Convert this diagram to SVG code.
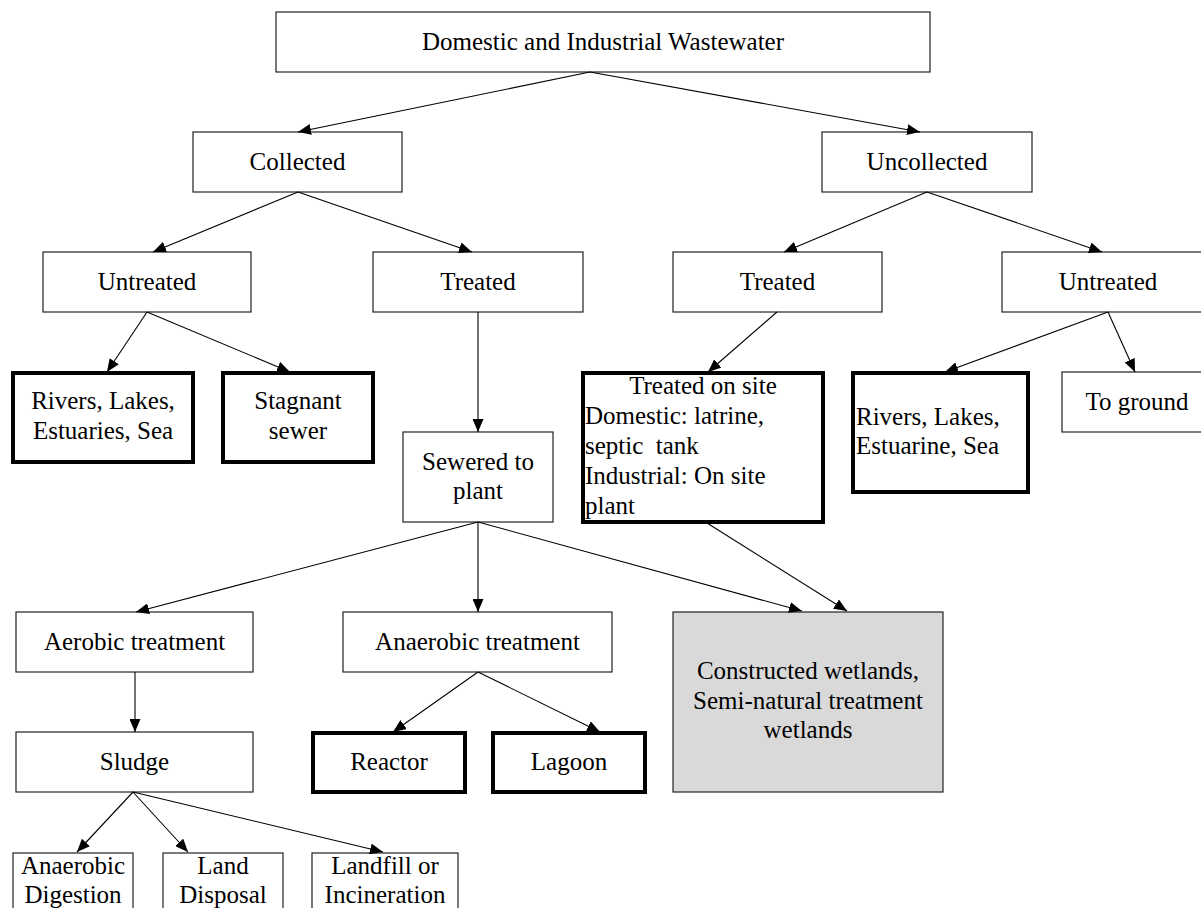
<svg xmlns="http://www.w3.org/2000/svg" width="1201" height="908" viewBox="0 0 1201 908">
<defs>
<style>
.b{fill:#fff;stroke:#222;stroke-width:1.2}
.k{fill:#fff;stroke:#000;stroke-width:4}
.g{fill:#d9d9d9;stroke:#222;stroke-width:1.2}
text{font-family:"Liberation Serif","Times New Roman",serif;font-size:25px;fill:#000}
.c{text-anchor:middle}
.e{stroke:#000;stroke-width:1.1;fill:none;marker-end:url(#ah)}
</style>
<marker id="ah" markerUnits="userSpaceOnUse" markerWidth="13" markerHeight="11" refX="13" refY="5.5" orient="auto">
<path d="M0,0 L13,5.5 L0,11 z" fill="#000"/>
</marker>
</defs>
<rect width="1201" height="908" fill="#fff"/>
<g id="n-top"><rect class="b" x="276" y="12" width="654" height="60"/><text class="c" x="603" y="50">Domestic and Industrial Wastewater</text></g>
<g id="n-collected"><rect class="b" x="193" y="132" width="209" height="60"/><text class="c" x="297.5" y="170">Collected</text></g>
<g id="n-uncollected"><rect class="b" x="822" y="132" width="210" height="60"/><text class="c" x="927" y="170">Uncollected</text></g>
<g id="n-untreated-l"><rect class="b" x="43" y="252" width="208" height="60"/><text class="c" x="147" y="290">Untreated</text></g>
<g id="n-treated-l"><rect class="b" x="373" y="252" width="210" height="60"/><text class="c" x="478" y="290">Treated</text></g>
<g id="n-treated-r"><rect class="b" x="673" y="252" width="209" height="60"/><text class="c" x="777.5" y="290">Treated</text></g>
<g id="n-untreated-r"><rect class="b" x="1002" y="252" width="212" height="60"/><text class="c" x="1108" y="290">Untreated</text></g>
<g id="n-rivers-l"><rect class="k" x="13" y="373" width="180" height="89"/><text class="c" x="103" y="409">Rivers, Lakes,</text><text class="c" x="103" y="439">Estuaries, Sea</text></g>
<g id="n-stagnant"><rect class="k" x="223" y="373" width="150" height="89"/><text class="c" x="298" y="409">Stagnant</text><text class="c" x="298" y="439">sewer</text></g>
<g id="n-sewered"><rect class="b" x="403" y="432" width="150" height="90"/><text class="c" x="478" y="470">Sewered to</text><text class="c" x="478" y="499">plant</text></g>
<g id="n-onsite"><rect class="k" x="583" y="373" width="240" height="149"/><text class="c" x="703" y="394">Treated on site</text><text x="585" y="424">Domestic: latrine,</text><text x="585" y="454" xml:space="preserve">septic  tank</text><text x="585" y="484">Industrial: On site</text><text x="585" y="514">plant</text></g>
<g id="n-rivers-r"><rect class="k" x="853" y="373" width="175" height="119"/><text x="856" y="425">Rivers, Lakes,</text><text x="856" y="454">Estuarine, Sea</text></g>
<g id="n-ground"><rect class="b" x="1062" y="372" width="152" height="60"/><text class="c" x="1137" y="410">To ground</text></g>
<g id="n-aerobic"><rect class="b" x="16" y="612" width="237" height="60"/><text class="c" x="134.5" y="650">Aerobic treatment</text></g>
<g id="n-anaerobic"><rect class="b" x="343" y="612" width="269" height="60"/><text class="c" x="477.5" y="650">Anaerobic treatment</text></g>
<g id="n-wetlands"><rect class="g" x="673" y="612" width="270" height="180"/><text class="c" x="808" y="679">Constructed wetlands,</text><text class="c" x="808" y="709">Semi-natural treatment</text><text class="c" x="808" y="738">wetlands</text></g>
<g id="n-sludge"><rect class="b" x="16" y="732" width="237" height="60"/><text class="c" x="134.5" y="770">Sludge</text></g>
<g id="n-reactor"><rect class="k" x="313" y="733" width="152" height="59"/><text class="c" x="389" y="770">Reactor</text></g>
<g id="n-lagoon"><rect class="k" x="493" y="733" width="152" height="59"/><text class="c" x="569" y="770">Lagoon</text></g>
<g id="n-digestion"><rect class="b" x="13" y="853" width="120" height="70"/><text class="c" x="73" y="874">Anaerobic</text><text class="c" x="73" y="903">Digestion</text></g>
<g id="n-land"><rect class="b" x="163" y="853" width="120" height="70"/><text class="c" x="223" y="874">Land</text><text class="c" x="223" y="903">Disposal</text></g>
<g id="n-landfill"><rect class="b" x="312" y="853" width="146" height="70"/><text class="c" x="385" y="874">Landfill or</text><text class="c" x="385" y="903">Incineration</text></g>
<g id="connectors">
<line class="e" x1="590" y1="72" x2="298" y2="132"/>
<line class="e" x1="590" y1="72" x2="920" y2="132"/>
<line class="e" x1="298" y1="192" x2="153" y2="252"/>
<line class="e" x1="298" y1="192" x2="472" y2="252"/>
<line class="e" x1="927" y1="192" x2="784" y2="252"/>
<line class="e" x1="927" y1="192" x2="1102" y2="252"/>
<line class="e" x1="147" y1="312" x2="107" y2="372"/>
<line class="e" x1="147" y1="312" x2="290" y2="372"/>
<line class="e" x1="478" y1="312" x2="478" y2="432"/>
<line class="e" x1="777" y1="312" x2="708" y2="372"/>
<line class="e" x1="1108" y1="312" x2="945" y2="372"/>
<line class="e" x1="1108" y1="312" x2="1135" y2="372"/>
<line class="e" x1="478" y1="522" x2="136" y2="612"/>
<line class="e" x1="478" y1="522" x2="478" y2="612"/>
<line class="e" x1="478" y1="522" x2="802" y2="611"/>
<line class="e" x1="707" y1="523" x2="847" y2="611"/>
<line class="e" x1="135" y1="672" x2="135" y2="732"/>
<line class="e" x1="478" y1="672" x2="393" y2="732"/>
<line class="e" x1="478" y1="672" x2="600" y2="732"/>
<line class="e" x1="133" y1="792" x2="77" y2="852"/>
<line class="e" x1="133" y1="792" x2="188" y2="852"/>
<line class="e" x1="133" y1="792" x2="383" y2="852"/>
</g>
</svg>
